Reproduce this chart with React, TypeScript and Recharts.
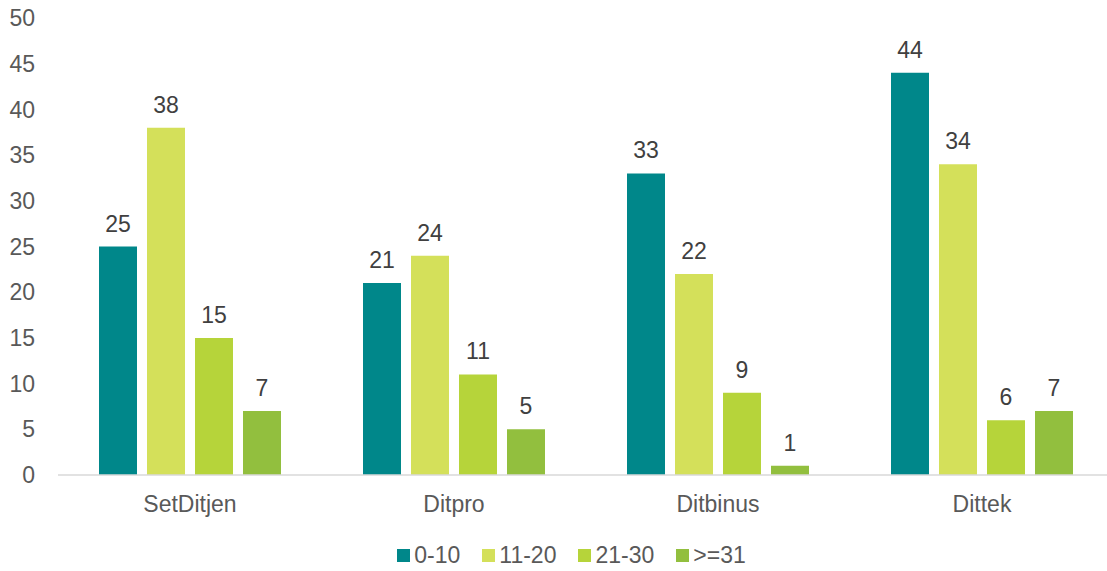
import {
  BarChart,
  Bar,
  XAxis,
  YAxis,
  LabelList,
  Legend,
} from "recharts";

const categories = ["SetDitjen", "Ditpro", "Ditbinus", "Dittek"];
const range0to10 = [25, 21, 33, 44];
const range11to20 = [38, 24, 22, 34];
const range21to30 = [15, 11, 9, 6];
const range31plus = [7, 5, 1, 7];
const yTicks = [0, 5, 10, 15, 20, 25, 30, 35, 40, 45, 50];

const seriesList = [
  { key: "a", name: "0-10", values: range0to10, color: "#00878a" },
  { key: "b", name: "11-20", values: range11to20, color: "#d4e05a" },
  { key: "c", name: "21-30", values: range21to30, color: "#b6d43a" },
  { key: "d", name: ">=31", values: range31plus, color: "#92bf3e" },
];

const data = categories.map((name, i) => {
  const row: Record<string, string | number> = { name };
  seriesList.forEach((s) => {
    row[s.key] = s.values[i];
  });
  return row;
});

const FONT = '"Liberation Sans", Arial, sans-serif';

function LegendBox() {
  return (
    <div
      style={{
        display: "flex",
        justifyContent: "center",
        alignItems: "center",
        fontFamily: FONT,
        fontSize: 23,
        color: "#595959",
        paddingLeft: 36,
        marginTop: 17,
      }}
    >
      {seriesList.map((s, i) => (
        <div
          key={s.key}
          style={{
            display: "flex",
            alignItems: "center",
            marginLeft: i === 0 ? 0 : 22,
          }}
        >
          <span
            style={{
              display: "inline-block",
              width: 13,
              height: 13,
              background: s.color,
              marginRight: 4,
            }}
          />
          <span>{s.name}</span>
        </div>
      ))}
    </div>
  );
}

export default function App() {
  return (
    <div style={{ position: "absolute", left: 0, top: 0, background: "#fff" }}>
      <BarChart
        width={1114}
        height={571}
        data={data}
        margin={{ top: 18, right: 0, left: 0, bottom: 0 }}
        barGap={10}
        barSize={38}
      >
        <XAxis
          dataKey="name"
          tickLine={false}
          axisLine={{ stroke: "#d9d9d9", strokeWidth: 1.5 }}
          tick={{ fill: "#595959", fontSize: 23, fontFamily: FONT }}
          tickSize={0}
          tickMargin={21}
          height={50}
        />
        <YAxis
          domain={[0, 50]}
          ticks={yTicks}
          width={58}
          axisLine={false}
          tickLine={false}
          tickSize={0}
          tickMargin={23}
          interval={0}
          tick={{ fill: "#595959", fontSize: 23, fontFamily: FONT }}
        />
        <Legend
          verticalAlign="bottom"
          height={46}
          wrapperStyle={{ left: 0, width: 1107 }}
          content={() => <LegendBox />}
        />
        {seriesList.map((s) => (
          <Bar
            key={s.key}
            dataKey={s.key}
            name={s.name}
            fill={s.color}
            isAnimationActive={false}
          >
            <LabelList
              dataKey={s.key}
              position="top"
              offset={15}
              fill="#404040"
              fontSize={23}
              fontFamily={FONT}
            />
          </Bar>
        ))}
      </BarChart>
    </div>
  );
}
